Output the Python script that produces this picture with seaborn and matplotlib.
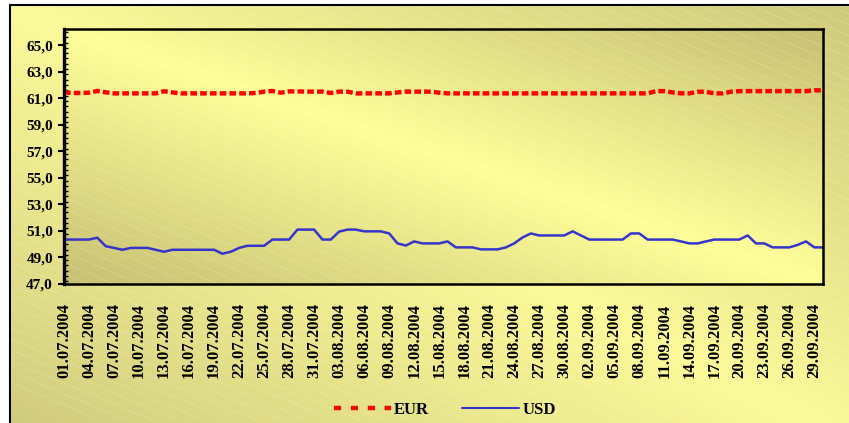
import numpy as np
import pandas as pd
import matplotlib
matplotlib.use('Agg')
import matplotlib.pyplot as plt
from matplotlib.lines import Line2D
from matplotlib.ticker import MultipleLocator, FixedLocator
import seaborn as sns

# Курсы валют, июль - сентябрь 2004
dates = pd.date_range('2004-07-01', '2004-09-30', freq='D')

eur = [61.45, 61.40, 61.40, 61.42, 61.55, 61.45, 61.37, 61.37, 61.37, 61.37,
       61.37, 61.37, 61.53, 61.44, 61.37, 61.37, 61.37, 61.37, 61.37, 61.37,
       61.37, 61.37, 61.37, 61.40, 61.50, 61.55, 61.42, 61.52, 61.52, 61.50,
       61.50, 61.50, 61.40, 61.50, 61.50, 61.37, 61.37, 61.37, 61.37, 61.37,
       61.44, 61.50, 61.50, 61.50, 61.50, 61.42, 61.37, 61.37, 61.37, 61.37,
       61.37, 61.37, 61.37, 61.37, 61.37, 61.37, 61.37, 61.37, 61.37, 61.37,
       61.37, 61.37, 61.37, 61.37, 61.37, 61.37, 61.37, 61.37, 61.37, 61.37,
       61.37, 61.54, 61.54, 61.44, 61.37, 61.37, 61.49, 61.49, 61.37, 61.37,
       61.49, 61.54, 61.54, 61.54, 61.54, 61.54, 61.54, 61.54, 61.54, 61.54,
       61.60, 61.60]

usd = [50.35, 50.35, 50.35, 50.35, 50.49, 49.85, 49.72, 49.58, 49.72, 49.72,
       49.72, 49.58, 49.43, 49.58, 49.58, 49.58, 49.58, 49.58, 49.58, 49.28,
       49.43, 49.72, 49.88, 49.88, 49.88, 50.35, 50.35, 50.35, 51.10, 51.10,
       51.10, 50.35, 50.35, 50.95, 51.10, 51.10, 50.97, 50.97, 50.97, 50.81,
       50.06, 49.90, 50.21, 50.06, 50.06, 50.06, 50.21, 49.76, 49.76, 49.76,
       49.61, 49.61, 49.61, 49.76, 50.06, 50.51, 50.81, 50.66, 50.66, 50.66,
       50.66, 50.97, 50.66, 50.35, 50.35, 50.35, 50.35, 50.35, 50.81, 50.81,
       50.35, 50.35, 50.35, 50.35, 50.21, 50.06, 50.06, 50.21, 50.35, 50.35,
       50.35, 50.35, 50.66, 50.06, 50.06, 49.76, 49.76, 49.76, 49.95, 50.21,
       49.76, 49.76]

df = pd.DataFrame({'date': dates, 'EUR': eur, 'USD': usd})

sns.set_theme(style='white')
plt.rcParams['font.family'] = ['Liberation Serif', 'DejaVu Serif']
plt.rcParams['text.color'] = 'black'
plt.rcParams['xtick.color'] = 'black'
plt.rcParams['ytick.color'] = 'black'


def gradient(w, h, bright, dark):
    u = np.linspace(0, 1, w)[None, :]
    v = np.linspace(1, 0, h)[:, None]
    t = np.clip(np.abs(u + v - 1), 0, 1)[..., None]
    return np.array(bright) * (1 - t) + np.array(dark) * t


fig = plt.figure(figsize=(8.49, 4.23), dpi=100)

# фон диаграммы
bg = fig.add_axes([0, 0, 1, 1])
bg.imshow(gradient(400, 200, (0.99, 0.98, 0.60), (0.80, 0.78, 0.48)),
          extent=(10, 900, 470, 5), aspect='auto', zorder=0)
bg.imshow(gradient(400, 200, (1.0, 1.0, 0.60), (0.78, 0.75, 0.45)),
          extent=(64, 822.7, 284, 29.3), aspect='auto', zorder=1)
for x0 in np.arange(-900, 900, 26):
    bg.plot([x0, x0 + 1000], [0, 420], color='white', lw=0.6, alpha=0.2, zorder=2)
bg.add_patch(plt.Rectangle((0, 0), 10, 423, color='white', zorder=3))
bg.add_patch(plt.Rectangle((0, 0), 849, 5, color='white', zorder=3))
bg.plot([10, 10], [5, 423], color='black', lw=1.5, zorder=4)
bg.plot([10, 849], [5, 5], color='black', lw=1.5, zorder=4)
bg.set_xlim(0, 849)
bg.set_ylim(423, 0)
bg.axis('off')

ax = fig.add_axes([64 / 849, 1 - 284 / 423, (822.7 - 64) / 849, (284 - 29.3) / 423])
ax.patch.set_alpha(0)

sns.lineplot(data=df, x='date', y='EUR', ax=ax, color='#FF0000', lw=3.2,
             linestyle=(0, (1.5, 0.7)))
sns.lineplot(data=df, x='date', y='USD', ax=ax, color='#3535CC', lw=1.8)

ax.set_xlim(dates[0], dates[-1])
ax.set_ylim(47, 66.2)
ax.yaxis.set_major_locator(FixedLocator(np.arange(47, 66, 2)))
ax.yaxis.set_minor_locator(MultipleLocator(0.4))
ax.set_yticklabels([f'{v:.1f}'.replace('.', ',') for v in np.arange(47, 66, 2)],
                   fontsize=11, fontweight='bold', color='black')
ax.set_xticks(dates[::3])
ax.set_xticklabels([d.strftime('%d.%m.%Y') for d in dates[::3]], rotation=90,
                   fontsize=12, fontweight='bold', color='black')
ax.tick_params(axis='x', length=0, pad=14)
ax.tick_params(axis='y', which='major', direction='out', length=4, width=1.5,
               color='black', pad=4, left=True)
ax.tick_params(axis='y', which='minor', direction='in', length=3, width=1,
               color='black', left=True)
ax.set_xlabel('')
ax.set_ylabel('')
for s in ax.spines.values():
    s.set_color('black')
    s.set_linewidth(1.8)
    s.set_visible(True)
ax.spines['left'].set_linewidth(2.4)

handles = [Line2D([], [], color='#FF0000', lw=3.2, linestyle=(0, (1.6, 2.2))),
           Line2D([], [], color='#3535CC', lw=1.5)]
fig.legend(handles=handles, labels=['EUR', 'USD'], loc='center',
           bbox_to_anchor=(445 / 849, 1 - 410 / 423), ncol=2, frameon=False,
           handlelength=3.4, columnspacing=2.0, handletextpad=0.2,
           prop=dict(weight='bold', size=12))

fig.savefig('out.png', dpi=100)
